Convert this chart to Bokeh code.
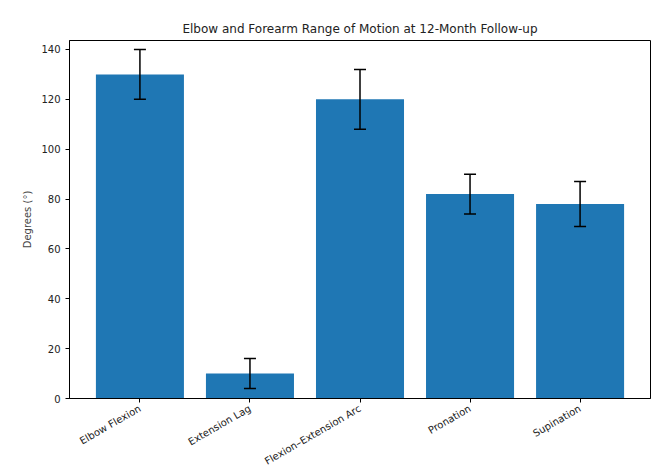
import math
from bokeh.plotting import figure
from bokeh.models import ColumnDataSource, Whisker, TeeHead, FixedTicker, Range1d
from bokeh.embed import file_html
from bokeh.resources import INLINE

categories = ["Elbow Flexion", "Extension Lag", "Flexion–Extension Arc", "Pronation", "Supination"]
means = [130, 10, 120, 82, 78]
errors = [10, 6, 12, 8, 9]
y_ticks = [0, 20, 40, 60, 80, 100, 120, 140]

xs = list(range(len(categories)))
src = ColumnDataSource(dict(
    x=xs, top=means,
    lower=[m - e for m, e in zip(means, errors)],
    upper=[m + e for m, e in zip(means, errors)],
))

p = figure(width=652, height=474, output_backend="svg", toolbar_location=None,
           x_range=Range1d(-0.64, len(categories) - 1 + 0.64), y_range=Range1d(0, 143.6),
           min_border_left=69, min_border_right=2, min_border_top=40, min_border_bottom=76,
           title="Elbow and Forearm Range of Motion at 12-Month Follow-up")
p.title.align = "center"
p.title.text_font = "DejaVu Sans"
p.title.text_font_size = "12px"
p.title.text_font_style = "normal"
p.title.text_color = "#222222"

p.vbar(x="x", top="top", bottom=0, width=0.8, source=src, color="#1f77b4", line_color=None)
w = Whisker(base="x", lower="lower", upper="upper", source=src, line_color="black", line_width=1.5,
            upper_head=TeeHead(size=12, line_color="black", line_width=1.5),
            lower_head=TeeHead(size=12, line_color="black", line_width=1.5))
w.level = "overlay"
p.add_layout(w)

p.xgrid.visible = False
p.ygrid.visible = False
p.outline_line_color = "black"
p.outline_line_width = 1

p.xaxis.ticker = FixedTicker(ticks=xs)
p.xaxis.major_label_overrides = {i: c for i, c in enumerate(categories)}
p.xaxis.major_label_orientation = math.pi / 6
p.xaxis.major_label_standoff = 5
p.yaxis.ticker = FixedTicker(ticks=y_ticks)
p.yaxis.axis_label = "Degrees (°)"
for ax in (p.xaxis, p.yaxis):
    ax.major_label_text_font = "DejaVu Sans"
    ax.major_label_text_font_size = "10px"
    ax.major_label_text_color = "#222222"
    ax.axis_label_text_font = "DejaVu Sans"
    ax.axis_label_text_font_size = "10px"
    ax.axis_label_text_font_style = "normal"
    ax.minor_tick_line_color = None
    ax.major_tick_out = 4
    ax.major_tick_in = 0
    ax.axis_line_color = "black"

open("out.html", "w").write(file_html(p, INLINE))
